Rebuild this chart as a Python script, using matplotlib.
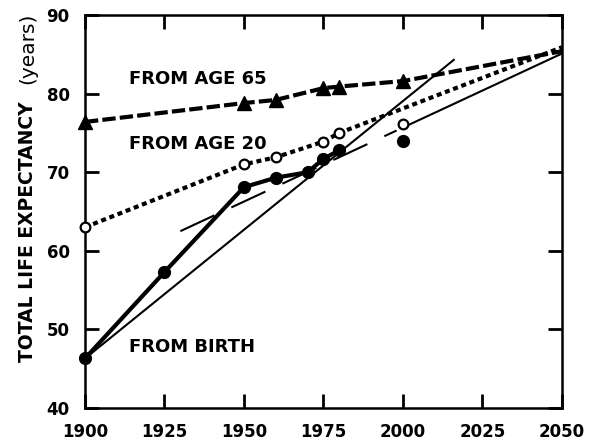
import numpy as np
import matplotlib
matplotlib.use("Agg")
import matplotlib.pyplot as plt

plt.rcParams['font.family'] = ['DejaVu Sans']

# observed life expectancy, total years
birth_years = [1900, 1925, 1950, 1960, 1970, 1975, 1980]
birth_vals = [46.3, 57.3, 68.1, 69.3, 70.0, 71.7, 72.8]
birth_2000 = (2000, 74.0)

age20_years = [1900, 1950, 1960, 1975, 1980]
age20_vals = [63.0, 71.0, 71.9, 73.9, 75.0]
age20_2000 = (2000, 76.2)
age20_proj = (2050, 85.9)

age65_years = [1900, 1950, 1960, 1975, 1980, 2000]
age65_vals = [76.4, 78.8, 79.2, 80.7, 80.9, 81.6]
age65_proj = (2050, 85.4)

# straight trend lines
trend_long_x = [1900, 2016]
trend_long_y = [46.3, 84.3]
trend_recent_x = [1930, 2050]
trend_recent_y = [62.5, 85.1]
trend_recent_solid_from = 2002   # dashes stop after the year 2000 circle

x_ticks = [1900, 1925, 1950, 1975, 2000, 2025, 2050]
y_ticks = [40, 50, 60, 70, 80, 90]

fig = plt.figure(figsize=(5.91, 4.44), dpi=100)
ax = fig.add_axes([0.1438, 0.0811, 0.807, 0.885])

# from age 65: dashed line with triangles
ax.plot(age65_years + [age65_proj[0]], age65_vals + [age65_proj[1]],
        color='black', lw=3, dashes=(3.2, 1.0), solid_capstyle='butt')
ax.plot(age65_years, age65_vals, ls='none', marker='^', ms=10,
        color='black', clip_on=False)

# from age 20: dotted line with open circles
ax.plot(age20_years + [age20_proj[0]], age20_vals + [age20_proj[1]],
        color='black', lw=3, dashes=(1.2, 0.9))
ax.plot(age20_years + [age20_2000[0]], age20_vals + [age20_2000[1]],
        ls='none', marker='o', ms=7, mfc='white', mec='black', mew=1.6,
        clip_on=False, zorder=4)

# trend lines
ax.plot(trend_long_x, trend_long_y, color='black', lw=1.5)
slope = (trend_recent_y[1] - trend_recent_y[0]) / (trend_recent_x[1] - trend_recent_x[0])
y_split = trend_recent_y[0] + slope * (trend_recent_solid_from - trend_recent_x[0])
ax.plot([trend_recent_x[0], trend_recent_solid_from - 4],
        [trend_recent_y[0], y_split - 4 * slope], color='black', lw=1.5,
        dashes=(18, 9))
ax.plot([trend_recent_solid_from, trend_recent_x[1]],
        [y_split, trend_recent_y[1]], color='black', lw=1.5)

# from birth: solid line with filled circles
ax.plot(birth_years, birth_vals, color='black', lw=3, marker='o', ms=8.5,
        clip_on=False, zorder=5)
ax.plot([birth_2000[0]], [birth_2000[1]], ls='none', marker='o', ms=8.5,
        color='black')

ax.text(1914, 81.9, 'FROM AGE 65', fontsize=13, fontweight='bold',
        va='center', ha='left')
ax.text(1914, 73.6, 'FROM AGE 20', fontsize=13, fontweight='bold',
        va='center', ha='left')
ax.text(1914, 47.7, 'FROM BIRTH', fontsize=13, fontweight='bold',
        va='center', ha='left')

ax.set_xlim(1900, 2050)
ax.set_ylim(40, 90)
ax.set_xticks(x_ticks)
ax.set_yticks(y_ticks)
ax.tick_params(direction='in', length=10, width=2, top=True, right=True,
               labelsize=12, pad=11)
for lab in ax.get_xticklabels() + ax.get_yticklabels():
    lab.set_fontweight('bold')
for sp in ax.spines.values():
    sp.set_linewidth(1.8)

fig.text(28 / 591, 1 - 362 / 444, 'TOTAL LIFE EXPECTANCY', rotation=90,
         fontsize=13.5, fontweight='bold', ha='center', va='bottom')
fig.text(28 / 591, 1 - 13 / 444, '(years)', rotation=90,
         fontsize=14.5, ha='center', va='top')

fig.savefig('out.png', dpi=100)
